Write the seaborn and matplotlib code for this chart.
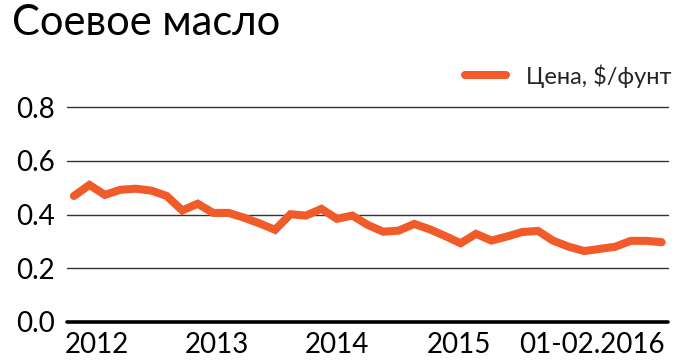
import matplotlib
matplotlib.use("Agg")
import matplotlib.pyplot as plt
import seaborn as sns
import pandas as pd
import numpy as np

# ---- data ----
prices = [0.469, 0.510, 0.473, 0.492, 0.496, 0.489, 0.469, 0.415, 0.440, 0.406,
          0.406, 0.388, 0.367, 0.343, 0.401, 0.396, 0.421, 0.384, 0.396, 0.361,
          0.336, 0.340, 0.365, 0.345, 0.320, 0.293, 0.328, 0.303, 0.318, 0.335,
          0.339, 0.302, 0.280, 0.264, 0.272, 0.280, 0.302, 0.302, 0.297]
tick_labels = ["2012", "2013", "2014", "2015", "01-02.2016"]
tick_positions = [1.49, 9.24, 17.0, 24.9, 33.5]
y_ticks = [0.0, 0.2, 0.4, 0.6, 0.8]
title = "Соевое масло"
series_name = "Цена, $/фунт"

df = pd.DataFrame({"idx": np.arange(len(prices)), "value": prices})

sns.set_theme(style="white")
plt.rcParams["font.family"] = ["Lato", "DejaVu Sans"]

color = "#F15A29"
W, H = 680, 362
fig = plt.figure(figsize=(W / 100, H / 100), dpi=100)
left, right = 67 / W, 668 / W
bottom = (H - 322) / H
top = (H - 107) / H
ax = fig.add_axes([left, bottom, right - left, top - bottom])

sns.lineplot(data=df, x="idx", y="value", ax=ax, color=color, linewidth=5.8,
             label=series_name, legend=False, solid_capstyle="round",
             solid_joinstyle="miter", zorder=3)

ax.set_ylim(0, 0.8)
ax.set_xlim(-0.45, len(prices) - 1 + 0.41)
ax.set_yticks(y_ticks)
ax.set_yticklabels([f"{v:.1f}" for v in y_ticks])
ax.set_xticks(tick_positions)
ax.set_xticklabels(tick_labels)
ax.set_xlabel("")
ax.set_ylabel("")

for v in y_ticks[1:]:
    ax.axhline(v, color="#333333", linewidth=1.0, zorder=1, clip_on=False)
ax.axhline(0, color="black", linewidth=2.6, zorder=2, clip_on=False)

for s in ax.spines.values():
    s.set_visible(False)

ax.tick_params(axis="both", length=0, colors="black", labelsize=20)
ax.tick_params(axis="y", pad=9)
ax.tick_params(axis="x", pad=7)

fig.text(12 / W, 1 - 4 / H, title, fontsize=30,
         ha="left", va="top", color="black")

from matplotlib.lines import Line2D
handle = Line2D([], [], color=color, linewidth=5.8, solid_capstyle="round")
leg = fig.legend([handle], [series_name], loc="center right",
                 bbox_to_anchor=(672 / W, 1 - 76 / H), frameon=False,
                 fontsize=17, handlelength=1.75, handletextpad=0.85,
                 borderpad=0, borderaxespad=0)

fig.savefig("out.png", dpi=100, facecolor="white")
